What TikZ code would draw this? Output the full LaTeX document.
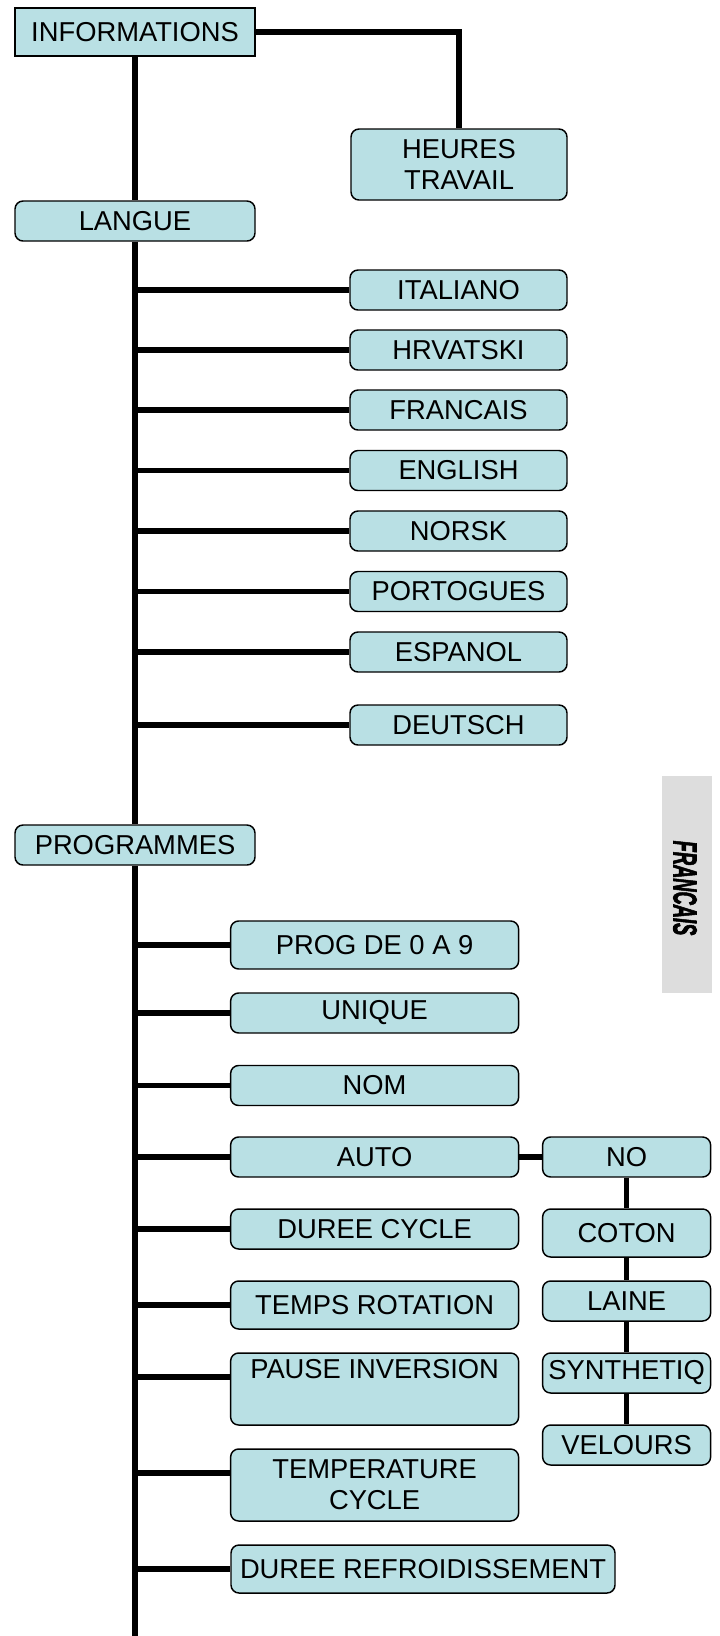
\documentclass[tikz,border=0pt]{standalone}
\usepackage{fontspec}
\setmainfont{Liberation Sans}
\newfontfamily\tabfont[BoldItalicFeatures={FakeBold=2.5}]{Liberation Sans}
\definecolor{boxfill}{RGB}{185,224,228}
\definecolor{tabgray}{RGB}{221,221,221}
\begin{document}
\begin{tikzpicture}[x=0.75pt,y=-0.75pt,
  box/.style={draw=black,line width=1.1pt,fill=boxfill,rounded corners=6pt,inner sep=0pt,align=center,
    font=\fontsize{20.5}{23}\selectfont},
  mainbox/.style={box,minimum width=180pt,minimum height=30pt},
  langbox/.style={box,minimum width=162.75pt,minimum height=30pt},
  progbox/.style={box,minimum width=216pt,minimum height=30pt},
  subbox/.style={box,minimum width=126pt,minimum height=30pt},
  conn/.style={line width=4.2pt}]
\useasboundingbox (0,0) rectangle (720,1636);
% side tab
\node[fill=tabgray,minimum width=37.5pt,minimum height=162.75pt,inner sep=0pt] (tab) at (686.6,884.5) {};
\node[rotate=-90,inner sep=0pt] (tabtext) at (685,888) {\scalebox{0.55}[1]{\fontsize{25}{30}\selectfont\tabfont\bfseries\itshape FRANCAIS}};
% main boxes
\node[mainbox,rounded corners=0pt,minimum height=36pt] (info) at (135,32) {INFORMATIONS};
\node[box,minimum width=162pt,minimum height=53.25pt] (heures) at (459,164.5) {HEURES\\TRAVAIL};
\node[mainbox] (langue) at (135,221) {LANGUE};
\node[mainbox] (prog) at (135,845) {PROGRAMMES};
% languages
\node[langbox] (ita) at (458.5,290) {ITALIANO};
\node[langbox] (hrv) at (458.5,350) {HRVATSKI};
\node[langbox] (fra) at (458.5,410) {FRANCAIS};
\node[langbox] (eng) at (458.5,470.5) {ENGLISH};
\node[langbox] (nor) at (458.5,531) {NORSK};
\node[langbox] (por) at (458.5,591.5) {PORTOGUES};
\node[langbox] (esp) at (458.5,652) {ESPANOL};
\node[langbox] (deu) at (458.5,725) {DEUTSCH};
% programme items
\node[progbox,minimum height=36pt] (p09) at (374.6,945) {PROG DE 0 A 9};
\node[progbox] (uni) at (374.6,1013) {UNIQUE};
\node[progbox] (nom) at (374.6,1085.5) {NOM};
\node[progbox] (auto) at (374.6,1157) {AUTO};
\node[progbox] (dcy) at (374.6,1229) {DUREE CYCLE};
\node[progbox,minimum height=36pt] (trot) at (374.6,1305) {TEMPS ROTATION};
\node[progbox,minimum height=54pt] (pinv) at (374.6,1389) {PAUSE INVERSION\\\strut};
\node[progbox,minimum height=54pt] (tcy) at (374.6,1485) {TEMPERATURE\\CYCLE};
\node[box,minimum width=288pt,minimum height=36pt] (dref) at (423,1569) {DUREE REFROIDISSEMENT};
% auto sub items
\node[subbox] (no) at (626.6,1157) {NO};
\node[subbox,minimum height=36pt] (cot) at (626.6,1233) {COTON};
\node[subbox] (lai) at (626.6,1301) {LAINE};
\node[subbox] (syn) at (626.6,1373) {SYNTHETIQ};
\node[subbox] (vel) at (626.6,1445) {VELOURS};
\coordinate (trunkend) at (135,1636);
\coordinate (pinvb) at ([yshift=9pt]pinv.west);
\coordinate (tcyb) at ([yshift=9pt]tcy.west);
% connectors
\draw[conn] (info.east) -| (heures.north);
\draw[conn] (info.south) -- (langue.north);
\draw[conn] (langue.south) -- (prog.north);
\draw[conn] (prog.south) -- (trunkend);
\foreach \n in {ita,hrv,fra,eng,nor,por,esp,deu}
  \draw[conn] (langue.south |- \n.west) -- (\n.west);
\foreach \n in {p09,uni,nom,auto,dcy,trot,dref}
  \draw[conn] (prog.south |- \n.west) -- (\n.west);
\draw[conn] (prog.south |- pinvb) -- (pinvb);
\draw[conn] (prog.south |- tcyb) -- (tcyb);
\draw[conn] (auto.east) -- (no.west);
\draw[conn] (no.south) -- (cot.north);
\draw[conn] (cot.south) -- (lai.north);
\draw[conn] (lai.south) -- (syn.north);
\draw[conn] (syn.south) -- (vel.north);
\end{tikzpicture}
\end{document}
